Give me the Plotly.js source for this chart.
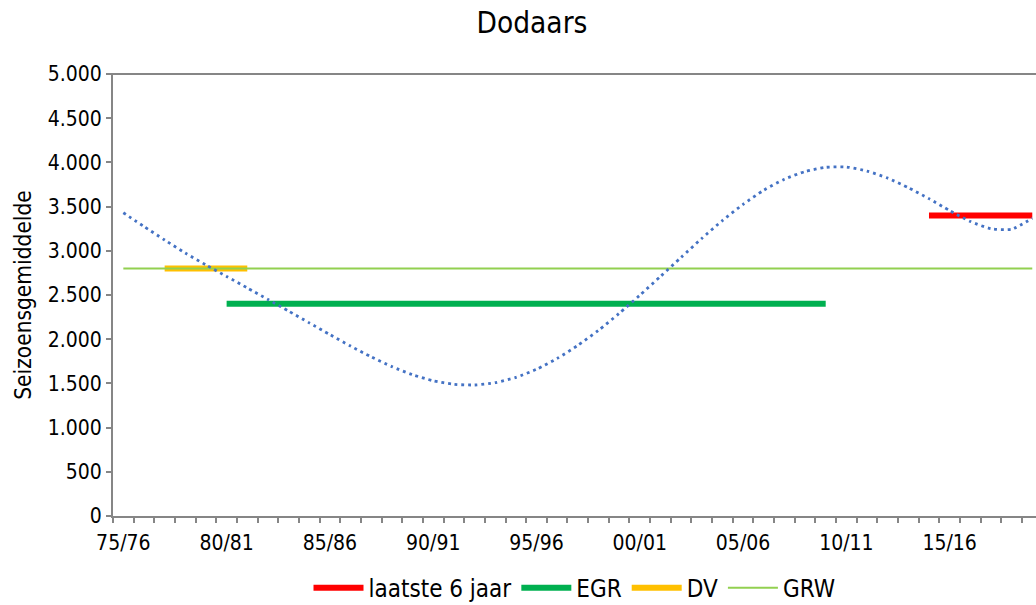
<!DOCTYPE html>
<html>
<head>
<meta charset="utf-8">
<script src="https://cdn.plot.ly/plotly-3.0.1.min.js"></script>
<style>html,body{margin:0;padding:0;background:#fff;}#chart{width:1036px;height:605px;}</style>
</head>
<body>
<div id="chart"></div>
<script>
// Seasons (categories)
const seasons = ["75/76","76/77","77/78","78/79","79/80","80/81","81/82","82/83","83/84","84/85",
  "85/86","86/87","87/88","88/89","89/90","90/91","91/92","92/93","93/94","94/95",
  "95/96","96/97","97/98","98/99","99/00","00/01","01/02","02/03","03/04","04/05",
  "05/06","06/07","07/08","08/09","09/10","10/11","11/12","12/13","13/14","14/15",
  "15/16","16/17","17/18","18/19","19/20"];
const tickLabels = ["75/76","80/81","85/86","90/91","95/96","00/01","05/06","10/11","15/16"];

// Trend line (dotted)
const trend = [3430,3275,3122,2975,2840,2710,2580,2450,2318,2185,
  2052,1922,1800,1690,1598,1530,1490,1482,1508,1568,
  1660,1782,1930,2100,2292,2497,2710,2925,3140,3342,
  3525,3685,3810,3896,3944,3948,3902,3822,3714,3590,
  3455,3332,3250,3245,3368];

// Horizontal reference lines
const laatsteSeasons = ["14/15","19/20"]; const laatsteValue = 3400;
const egrSeasons = ["80/81","09/10"];     const egrValue = 2400;
const dvSeasons = ["77/78","81/82"];      const dvValue = 2800;
const grwSeasons = ["75/76","19/20"];     const grwValue = 2800;

const idx = s => seasons.indexOf(s);
const FONT = "DejaVu Sans Condensed, DejaVu Sans, sans-serif";
const axisColor = "#868686";

const traces = [
  {name:"laatste 6 jaar", x: laatsteSeasons.map(idx), y:[laatsteValue,laatsteValue],
   mode:"lines", line:{color:"#FF0000", width:6}},
  {name:"EGR", x: egrSeasons.map(idx), y:[egrValue,egrValue],
   mode:"lines", line:{color:"#00B050", width:6}},
  {name:"DV", x: dvSeasons.map(idx), y:[dvValue,dvValue],
   mode:"lines", line:{color:"#FFC000", width:6}},
  {name:"GRW", x: grwSeasons.map(idx), y:[grwValue,grwValue],
   mode:"lines", line:{color:"#92D050", width:2}},
  {name:"trend", x: seasons.map((s,i)=>i), y: trend, mode:"lines", showlegend:false,
   line:{color:"#4472C4", width:2.8, dash:"2.8px,3.9px", shape:"spline", smoothing:0.6}}
];

const layout = {
  width:1036, height:605,
  margin:{l:113, r:0, t:74, b:89, autoexpand:false},
  paper_bgcolor:"#fff", plot_bgcolor:"#fff",
  separators:",.",
  font:{family:FONT, size:21, color:"#000"},
  title:{text:"Dodaars", x:0.5135, xref:"container", xanchor:"center", y:0.962, yanchor:"middle",
         font:{family:FONT, size:29.5, color:"#000"}},
  xaxis:{
    range:[-0.5, 44.18], showgrid:false, zeroline:false, automargin:false,
    showline:true, linecolor:axisColor, linewidth:2,
    tickmode:"array", tickvals: tickLabels.map(idx), ticktext: tickLabels,
    ticks:"", ticklabelstandoff:7,
    tickfont:{family:FONT, size:21, color:"#000"},
    minor:{tickmode:"linear", tick0:0.5, dtick:1, ticks:"outside", ticklen:5,
           tickwidth:2, tickcolor:axisColor, showgrid:false}
  },
  yaxis:{
    range:[0,5000], showgrid:false, zeroline:false, automargin:false,
    showline:true, linecolor:axisColor, linewidth:2,
    tickmode:"linear", tick0:0, dtick:500, tickformat:",d",
    ticks:"outside", ticklen:5, tickwidth:2, tickcolor:axisColor,
    tickfont:{family:FONT, size:21, color:"#000"},
    title:{text:"Seizoensgemiddelde", font:{family:FONT, size:22.5, color:"#000"}, standoff:10}
  },
  shapes:[{type:"line", xref:"paper", yref:"paper", x0:-0.007, x1:1, y0:1, y1:1,
           line:{color:axisColor, width:2}}],
  legend:{orientation:"h", x:0.5, xanchor:"center", y:-0.163, yanchor:"middle",
          itemwidth:50,
          font:{family:FONT, size:24, color:"#000"}, bgcolor:"rgba(0,0,0,0)"},
  showlegend:true
};

Plotly.newPlot("chart", traces, layout, {displayModeBar:false, staticPlot:true});
</script>
</body>
</html>
